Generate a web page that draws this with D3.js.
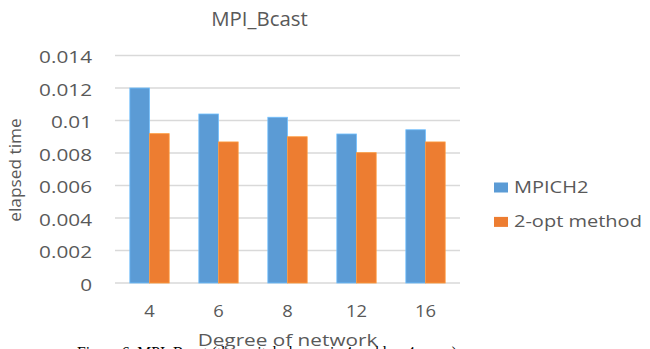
<!DOCTYPE html>
<html>
<head>
<meta charset="utf-8">
<script src="https://cdn.jsdelivr.net/npm/d3@7"></script>
<style>
  html, body { margin: 0; padding: 0; background: #fff; overflow: hidden; }
  svg { display: block; }
  text { font-family: "Open Sans", sans-serif; fill: #595959; }
  text.caption { font-family: "Liberation Serif", serif; fill: #000; }
</style>
</head>
<body>
<svg id="chart" width="650" height="349"></svg>
<script>
// Broadcast timing per network degree
const degrees = ["4", "6", "8", "12", "16"];
const seriesNames = ["MPICH2", "2-opt method"];
const mpich2 = [0.0120, 0.0104, 0.0102, 0.00917, 0.00943];
const twoOpt = [0.00919, 0.00868, 0.00900, 0.00802, 0.00868];
const yTicks = [0, 0.002, 0.004, 0.006, 0.008, 0.01, 0.012, 0.014];
const colors = ["#5B9BD5", "#ED7D31"];

const svg = d3.select("#chart");
const plot = { left: 115, right: 460, top: 55.5, bottom: 283 };

// Widen a text element horizontally by factor k
function stretch(sel, k) {
  sel.each(function () {
    const w = this.getComputedTextLength();
    d3.select(this).attr("textLength", w * k).attr("lengthAdjust", "spacingAndGlyphs");
  });
}

const x = d3.scaleBand().domain(degrees).range([plot.left, plot.right])
  .paddingInner(0.43).paddingOuter(0.215);
const xs = d3.scaleBand().domain(seriesNames).range([0, x.bandwidth()]);
const y = d3.scaleLinear().domain([0, 0.014]).range([plot.bottom, plot.top]);

// Horizontal gridlines
svg.append("g")
  .selectAll("line").data(yTicks).join("line")
  .attr("x1", plot.left).attr("x2", plot.right)
  .attr("y1", d => y(d)).attr("y2", d => y(d))
  .attr("stroke", "#D9D9D9").attr("stroke-width", 1.5);

// Y axis labels
const yAxis = svg.append("g")
  .attr("transform", `translate(${plot.left},0)`)
  .call(d3.axisLeft(y).tickValues(yTicks).tickFormat(d => d3.format("")(+d.toFixed(3))).tickSize(0).tickPadding(23));
yAxis.select(".domain").remove();
yAxis.selectAll("text")
  .attr("font-family", "Open Sans").attr("font-size", 17).attr("fill", "#595959")
  .attr("dy", "0.42em")
  .call(stretch, 1.22);

// X axis labels
const xAxis = svg.append("g")
  .attr("transform", `translate(0,${plot.bottom})`)
  .call(d3.axisBottom(x).tickSize(0).tickPadding(21));
xAxis.select(".domain").remove();
xAxis.selectAll("text")
  .attr("font-family", "Open Sans").attr("font-size", 17).attr("fill", "#595959")
  .attr("dy", "0")
  .attr("y", 33.5)
  .call(stretch, 1.08);

// Bars
const rows = degrees.map((d, i) => ({ degree: d, values: [mpich2[i], twoOpt[i]] }));
svg.append("g")
  .selectAll("g").data(rows).join("g")
  .attr("transform", d => `translate(${x(d.degree)},0)`)
  .selectAll("rect")
  .data(d => d.values.map((v, j) => ({ name: seriesNames[j], value: v, j })))
  .join("rect")
  .attr("x", d => xs(d.name))
  .attr("width", xs.bandwidth())
  .attr("y", d => y(d.value))
  .attr("height", d => y(0) - y(d.value))
  .attr("fill", d => colors[d.j])
  .attr("stroke", d => d3.color(colors[d.j]).brighter(0.6))
  .attr("stroke-width", 0.8);

// Title
svg.append("text")
  .attr("x", 259.5).attr("y", 26)
  .attr("text-anchor", "middle")
  .attr("font-size", 20)
  .text("MPI_Bcast")
  .call(stretch, 1.02);

// Figure caption (runs off the bottom edge, behind the axis title)
svg.append("text")
  .attr("class", "caption")
  .attr("x", 77).attr("y", 357.5)
  .attr("font-size", 16)
  .text("Figure 6.    MPI_Bcast (the switch degree is 4 and k = 4 cases)")
  .attr("textLength", 380).attr("lengthAdjust", "spacingAndGlyphs");

// Axis titles
svg.append("text")
  .attr("x", 287.5).attr("y", 345.5)
  .attr("text-anchor", "middle")
  .attr("font-size", 17)
  .text("Degree of network")
  .call(stretch, 1.22);

svg.append("text")
  .attr("transform", "translate(21,170) rotate(-90)")
  .attr("text-anchor", "middle")
  .attr("font-size", 16)
  .text("elapsed time")
  .call(stretch, 1.08);

// Legend
const legend = svg.append("g").selectAll("g").data(seriesNames).join("g")
  .attr("transform", (d, i) => `translate(494,${182.5 + i * 34.4})`);
legend.append("rect")
  .attr("width", 14).attr("height", 10)
  .attr("fill", (d, i) => colors[i]);
legend.append("text")
  .attr("x", 20).attr("y", 10)
  .attr("font-size", 16)
  .text(d => d)
  .call(stretch, 1.25);
</script>
</body>
</html>
